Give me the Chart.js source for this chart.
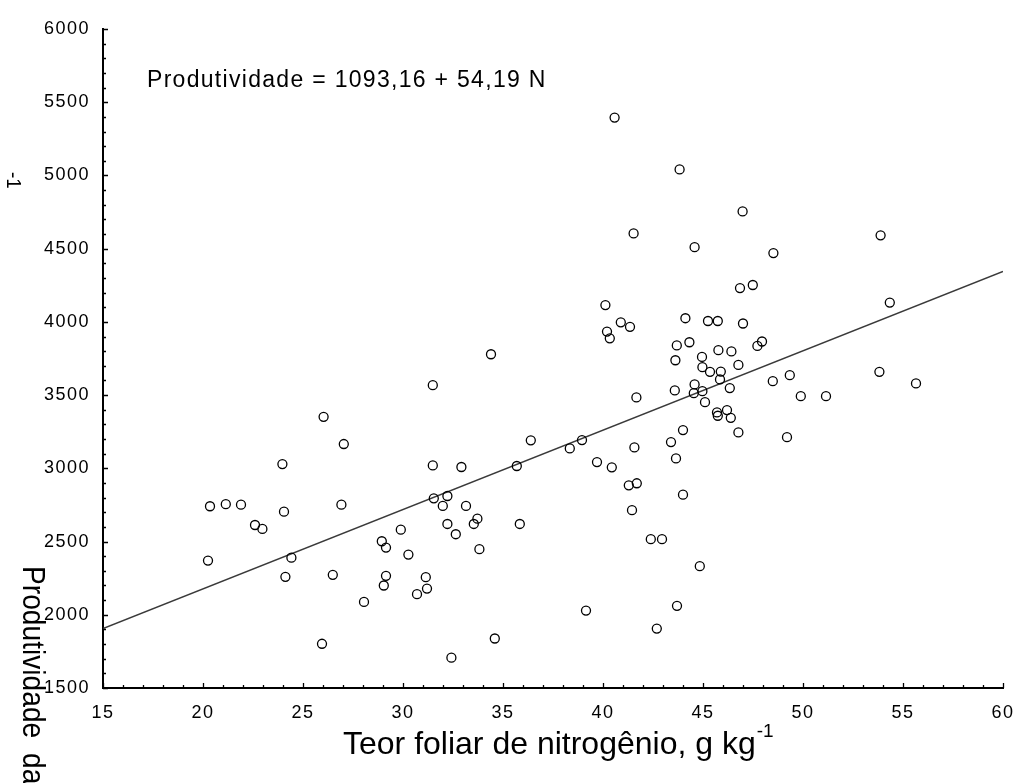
<!DOCTYPE html>
<html>
<head>
<meta charset="utf-8">
<script src="https://cdn.jsdelivr.net/npm/chart.js@4"></script>
<style>
  html, body { margin: 0; padding: 0; background: #fff; }
  #wrap { width: 1015px; height: 783px; }
</style>
</head>
<body>
<div id="wrap"><canvas id="scatterChart" width="1015" height="783"></canvas></div>
<script>
// leaf N content (g/kg) and yield (kg/ha)
const nitrogen = [
  20.25, 20.35, 21.14, 21.9, 22.6, 22.97, 24.05, 23.97, 24.12, 24.42,
  26.03, 25.95, 26.49, 26.92, 27.04, 28.05, 28.94, 29.15, 29.89, 30.27,
  29.15, 29.04, 31.14, 31.2, 30.7, 31.49, 31.49, 31.54, 32.22, 31.99,
  33.15, 32.22, 32.64, 33.72, 33.54, 33.82, 32.92, 32.42, 34.4, 34.59,
  35.69, 35.84, 36.39, 38.34, 38.95, 39.15, 39.7, 40.44, 40.12, 40.89,
  41.35, 40.2, 40.34, 40.58, 41.53, 41.67, 41.57, 41.29, 41.69, 41.45,
  42.39, 42.95, 42.69, 43.4, 43.65, 43.7, 43.83, 44.0, 44.0, 44.84,
  44.12, 45.25, 45.74, 43.69, 44.32, 43.62, 43.59, 44.58, 44.95, 44.97,
  45.35, 45.89, 45.85, 44.58, 44.54, 44.97, 45.77, 46.42, 46.34, 45.1,
  45.7, 45.74, 46.2, 46.39, 46.77, 46.77, 46.85, 47.49, 47.0, 46.98,
  47.72, 47.95, 48.49, 48.52, 49.34, 49.2, 49.89, 51.15, 53.88, 53.82,
  54.34, 55.65
];
const yieldVals = [
  2370, 2741, 2755, 2752, 2613, 2586, 2704, 3029, 2259, 2390,
  3352, 1802, 2273, 2752, 3166, 2088, 2502, 2459, 2581, 2411,
  2266, 2200, 2257, 2179, 2141, 3568, 3020, 2795, 2811, 2743,
  2743, 2620, 2550, 2656, 2620, 2448, 3009, 1707, 3779, 1838,
  3016, 2620, 3191, 3136, 3193, 2029, 3043, 3007, 4115, 3997,
  3966, 3934, 3888, 5395, 4604, 3484, 3143, 2884, 2898, 2714,
  2516, 2516, 1906, 3179, 3068, 2061, 5041, 3261, 2820, 2332,
  4025, 4006, 4006, 3839, 3861, 3738, 3532, 4510, 3761, 3691,
  3659, 3661, 3607, 3573, 3513, 3527, 3807, 3798, 3548, 3452,
  3382, 3359, 3398, 3345, 3706, 3245, 4231, 4252, 3989, 4754,
  3836, 3866, 3595, 4470, 3636, 3213, 3493, 3493, 4591, 3659,
  4132, 3580
];
const intercept = 1093.16;
const slope = 54.19;
const xRange = [15, 60];
const yRange = [1500, 6000];

const points = nitrogen.map((n, i) => ({ x: n, y: yieldVals[i] }));
const fitLine = xRange.map(x => ({ x: x, y: intercept + slope * x }));

const FONT = "'Liberation Sans', Arial, sans-serif";

// little inward tick marks, like the original plot
const innerTicks = {
  id: 'innerTicks',
  afterDraw(chart) {
    const { ctx, chartArea, scales } = chart;
    ctx.save();
    ctx.strokeStyle = '#000';
    ctx.lineWidth = 1.3;
    ctx.beginPath();
    for (let v = xRange[0]; v <= xRange[1]; v += 1) {
      const px = Math.round(scales.x.getPixelForValue(v)) + 0.5;
      const len = v % 5 === 0 ? 5 : 3;
      ctx.moveTo(px, chartArea.bottom);
      ctx.lineTo(px, chartArea.bottom - len);
    }
    for (let v = yRange[0]; v <= yRange[1]; v += 100) {
      const py = Math.round(scales.y.getPixelForValue(v)) + 0.5;
      const len = v % 500 === 0 ? 5 : 3;
      ctx.moveTo(chartArea.left, py);
      ctx.lineTo(chartArea.left + len, py);
    }
    ctx.stroke();
    ctx.restore();
  }
};

// text helper: optional rotation and horizontal squeeze
function drawText(ctx, txt, x, y, size, sx, angle) {
  ctx.save();
  ctx.translate(x, y);
  if (angle) ctx.rotate(angle);
  ctx.scale(sx, 1);
  ctx.font = size + 'px ' + FONT;
  ctx.fillText(txt, 0, 0);
  const w = ctx.measureText(txt).width * sx;
  ctx.restore();
  return w;
}

const labels = {
  id: 'labels',
  beforeDraw(chart) {
    chart.ctx.letterSpacing = '1.5px';
  },
  afterDraw(chart) {
    const ctx = chart.ctx;
    ctx.save();
    ctx.fillStyle = '#000';
    ctx.textBaseline = 'alphabetic';
    ctx.textAlign = 'left';

    ctx.letterSpacing = '1.3px';
    drawText(ctx, 'Produtividade = 1093,16 + 54,19 N', 147, 87, 23, 1);
    ctx.letterSpacing = '0px';

    // x-axis title with superscript
    const w = drawText(ctx, 'Teor foliar de nitrogênio, g kg', 343, 754, 32, 1);
    drawText(ctx, '-1', 343 + w + 1, 737, 19, 1);

    // rotated y-axis title pieces (the source export broke this label)
    drawText(ctx, 'Produtividade', 23, 566, 32, 0.88, Math.PI / 2);
    drawText(ctx, 'da', 23, 753, 32, 0.88, Math.PI / 2);
    drawText(ctx, '-1', 7, 172, 21, 0.9, Math.PI / 2);

    ctx.restore();
  }
};

new Chart(document.getElementById('scatterChart'), {
  type: 'scatter',
  data: {
    datasets: [
      {
        data: points,
        pointRadius: 4.5,
        pointHoverRadius: 4.5,
        borderWidth: 1.3,
        borderColor: '#000',
        backgroundColor: 'rgba(0,0,0,0)',
      },
      {
        type: 'line',
        data: fitLine,
        borderColor: '#3a3a3a',
        borderWidth: 1.6,
        pointRadius: 0,
        fill: false,
      },
    ],
  },
  options: {
    responsive: false,
    animation: false,
    devicePixelRatio: 1,
    layout: { padding: { top: 29, right: 12, left: 0, bottom: 0 } },
    plugins: { legend: { display: false }, tooltip: { enabled: false } },
    scales: {
      x: {
        type: 'linear',
        min: xRange[0],
        max: xRange[1],
        afterFit: s => { s.height = 95; s.paddingLeft = 0; s.paddingRight = 0; },
        ticks: { stepSize: 5, color: '#000', padding: 14, maxRotation: 0, font: { family: FONT, size: 18 } },
        grid: { drawOnChartArea: false, drawTicks: false },
        border: { display: true, color: '#000', width: 2 },
      },
      y: {
        min: yRange[0],
        max: yRange[1],
        afterFit: s => { s.width = 103; s.paddingTop = 0; s.paddingBottom = 0; },
        ticks: { stepSize: 500, color: '#000', padding: 13, font: { family: FONT, size: 18 }, callback: v => String(v) },
        grid: { drawOnChartArea: false, drawTicks: false },
        border: { display: true, color: '#000', width: 2 },
      },
    },
  },
  plugins: [innerTicks, labels],
});
</script>
</body>
</html>
